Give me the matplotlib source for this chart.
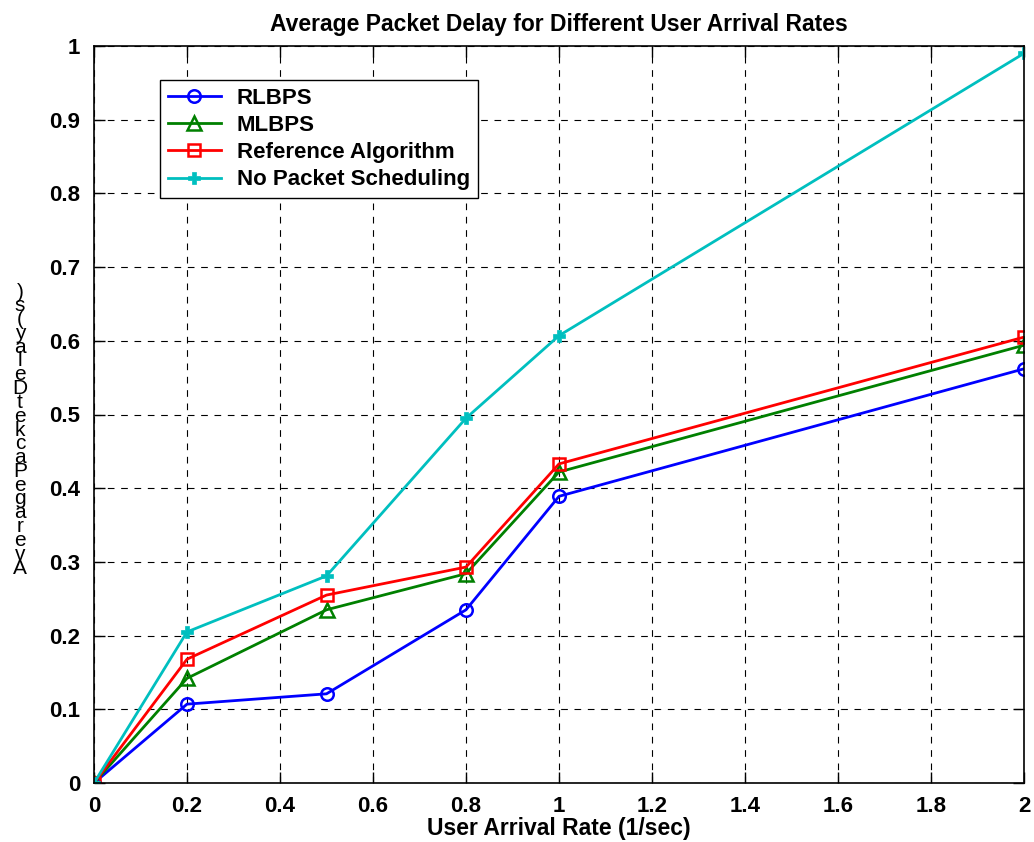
import matplotlib
matplotlib.use("Agg")
import matplotlib.pyplot as plt

arrival_rates = [0, 0.2, 0.5, 0.8, 1.0, 2.0]
rlbps = [0, 0.107, 0.121, 0.235, 0.389, 0.562]
mlbps = [0, 0.142, 0.235, 0.284, 0.422, 0.594]
reference_alg = [0, 0.168, 0.255, 0.293, 0.433, 0.605]
no_scheduling = [0, 0.205, 0.281, 0.495, 0.607, 0.990]

x_ticks = [0, 0.2, 0.4, 0.6, 0.8, 1.0, 1.2, 1.4, 1.6, 1.8, 2.0]
x_tick_labels = ["0", "0.2", "0.4", "0.6", "0.8", "1", "1.2", "1.4", "1.6", "1.8", "2"]
y_ticks = [0, 0.1, 0.2, 0.3, 0.4, 0.5, 0.6, 0.7, 0.8, 0.9, 1.0]
y_tick_labels = ["0", "0.1", "0.2", "0.3", "0.4", "0.5", "0.6", "0.7", "0.8", "0.9", "1"]

plt.rcParams["font.family"] = ["Liberation Sans", "DejaVu Sans"]

W, H = 1034, 842
fig = plt.figure(figsize=(W / 100, H / 100), dpi=100)
ax = fig.add_axes([94 / W, 1 - 783 / H, (1024 - 94) / W, (783 - 46) / H])

lw = 2.0
ax.plot(arrival_rates, rlbps, color="#0000ff", lw=lw, marker="o", ms=9,
        mfc="none", mew=1.8, label="RLBPS")
ax.plot(arrival_rates, mlbps, color="#008000", lw=lw, marker="^", ms=10,
        mfc="none", mew=1.8, label="MLBPS")
ax.plot(arrival_rates, reference_alg, color="#ff0000", lw=lw, marker="s", ms=9,
        mfc="none", mew=1.8, label="Reference Algorithm")
ax.plot(arrival_rates, no_scheduling, color="#00bfbf", lw=lw, marker="P", ms=8,
        mew=0.5, label="No Packet Scheduling")

ax.set_xlim(0, 2)
ax.set_ylim(0, 1)
ax.set_xticks(x_ticks)
ax.set_xticklabels(x_tick_labels)
ax.set_yticks(y_ticks)
ax.set_yticklabels(y_tick_labels)

ax.grid(True, color="black", linestyle=(0, (6, 6)), linewidth=0.8)
ax.tick_params(direction="in", length=8, width=1, top=True, right=True,
               labelsize=16)
ax.tick_params(axis="x", pad=9)
ax.tick_params(axis="y", pad=10)
for lab in ax.get_xticklabels() + ax.get_yticklabels():
    lab.set_fontweight("bold")
for sp in ax.spines.values():
    sp.set_linewidth(1.2)

ax.set_title("Average Packet Delay for Different User Arrival Rates",
             fontsize=16.5, fontweight="bold", pad=11)
ax.set_xlabel("User Arrival Rate (1/sec)", fontsize=16.5, fontweight="bold",
              labelpad=0)

# Stacked upright characters for the vertical axis label
ylabel_chars = [c for c in "Average Packet Delay(s)" if c != " "]
top_px, step_px = 292, 13.8
for i, ch in enumerate(reversed(ylabel_chars)):
    fig.text(20 / W, 1 - (top_px + i * step_px) / H, ch, fontsize=15,
             ha="center", va="center")

leg = ax.legend(loc="upper left", bbox_to_anchor=((160 - 94) / (1024 - 94),
                1 - (80 - 46) / (783 - 46)),
                prop={"weight": "bold", "size": 16}, frameon=True,
                fancybox=False, edgecolor="black", framealpha=1,
                borderpad=0.35, labelspacing=0.28, handlelength=2.4,
                handletextpad=0.7, borderaxespad=0)
leg.get_frame().set_linewidth(1.0)

fig.savefig("out.png", dpi=100)
